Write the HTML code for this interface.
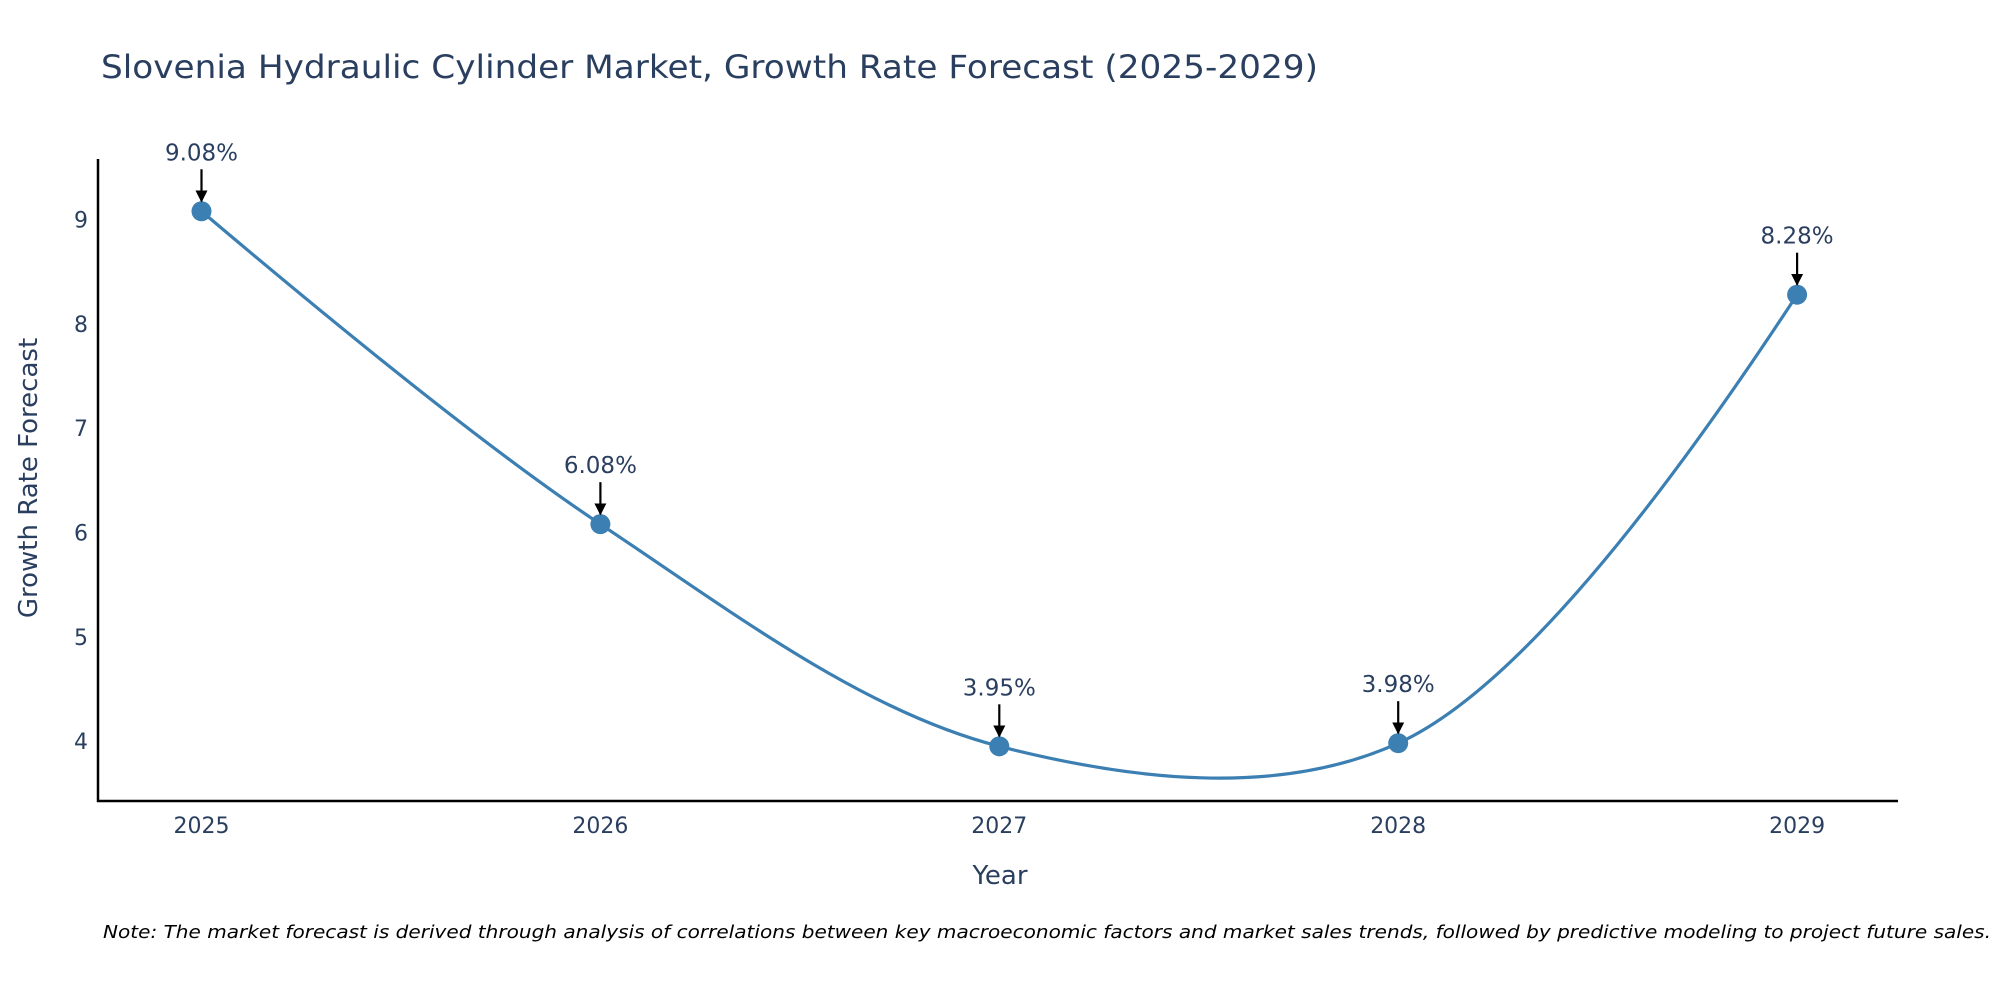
<!DOCTYPE html>
<html><head><meta charset="utf-8"><style>
body{margin:0;background:#fff;width:2000px;height:1000px;overflow:hidden}
svg text{font-family:"DejaVu Sans","Liberation Sans",sans-serif;fill:#2a3f5f}
</style></head><body>
<svg id="chart" width="2000" height="1000" xmlns="http://www.w3.org/2000/svg">
<defs><marker id="ah" viewBox="0 0 10 10" refX="9" refY="5" markerWidth="5.5" markerHeight="5.5" markerUnits="strokeWidth" orient="auto"><path d="M0,0L10,5L0,10z" fill="#000"/></marker></defs>
<text x="101" y="78" font-size="32" textLength="1217" lengthAdjust="spacingAndGlyphs">Slovenia Hydraulic Cylinder Market, Growth Rate Forecast (2025-2029)</text>
<line x1="98" y1="159" x2="98" y2="802" stroke="#000" stroke-width="2.5"/>
<line x1="97" y1="801" x2="1898" y2="801" stroke="#000" stroke-width="2.5"/>
<g id="yt"></g><g id="xt"></g><g id="series"></g><g id="ann"></g>
<text x="1000" y="884" font-size="26" text-anchor="middle">Year</text>
<text transform="translate(37,478) rotate(-90)" font-size="26" text-anchor="middle">Growth Rate Forecast</text>
<text x="103" y="938" font-size="18" font-style="italic" textLength="1888" lengthAdjust="spacingAndGlyphs" style="fill:#000">Note: The market forecast is derived through analysis of correlations between key macroeconomic factors and market sales trends, followed by predictive modeling to project future sales.</text>
</svg>
<script>
const years=["2025","2026","2027","2028","2029"];
const values=[9.08,6.08,3.95,3.98,8.28];
const labels=["9.08%","6.08%","3.95%","3.98%","8.28%"];
const yTicks=[4,5,6,7,8,9];
const NS="http://www.w3.org/2000/svg";
function X(i){return 201.5+i*398.9;}
function Y(v){return 741.1-(v-4)*104.3;}
function mk(t,a,p){const e=document.createElementNS(NS,t);for(const k in a)e.setAttribute(k,a[k]);p.appendChild(e);return e;}
const yt=document.getElementById('yt'),xt=document.getElementById('xt'),se=document.getElementById('series'),an=document.getElementById('ann');
yTicks.forEach(v=>{const t=mk('text',{x:88,y:Y(v)+8,'font-size':22,'text-anchor':'end'},yt);t.textContent=v;

});
years.forEach((y,i)=>{const t=mk('text',{x:X(i),y:833,'font-size':22,'text-anchor':'middle'},xt);t.textContent=y;

});
const pts=values.map((v,i)=>[X(i),Y(v)]);
function tan(a,b,c){const d1x=a[0]-b[0],d1y=a[1]-b[1],d2x=c[0]-b[0],d2y=c[1]-b[1];
const d1a=Math.pow(d1x*d1x+d1y*d1y,0.25),d2a=Math.pow(d2x*d2x+d2y*d2y,0.25);
const nx=(d2a*d2a*d1x-d1a*d1a*d2x),ny=(d2a*d2a*d1y-d1a*d1a*d2y);
const q1=3*d2a*(d1a+d2a),q2=3*d1a*(d1a+d2a);
return [[b[0]+nx/q1,b[1]+ny/q1],[b[0]-nx/q2,b[1]-ny/q2]];}
const tg=[];for(let i=1;i<pts.length-1;i++)tg.push(tan(pts[i-1],pts[i],pts[i+1]));
const P=p=>p[0].toFixed(2)+','+p[1].toFixed(2);
let d='M'+P(pts[0])+'Q'+P(tg[0][0])+' '+P(pts[1]);
for(let i=2;i<pts.length-1;i++)d+='C'+P(tg[i-2][1])+' '+P(tg[i-1][0])+' '+P(pts[i]);
d+='Q'+P(tg[pts.length-3][1])+' '+P(pts[pts.length-1]);
const line=mk('path',{d:d,fill:'none',stroke:'#3b7fb3','stroke-width':3.2},se);


pts.forEach((p,i)=>{const c=mk('circle',{cx:p[0],cy:p[1],r:10,fill:'#3b7fb3'},se);


const l=mk('line',{x1:p[0],y1:p[1]-42,x2:p[0],y2:p[1]-10,stroke:'#000','stroke-width':2.2,'marker-end':'url(#ah)'},an);


const t=mk('text',{x:p[0],y:p[1]-51,'font-size':23,'text-anchor':'middle'},an);t.textContent=labels[i];

});
</script>
</body></html>
